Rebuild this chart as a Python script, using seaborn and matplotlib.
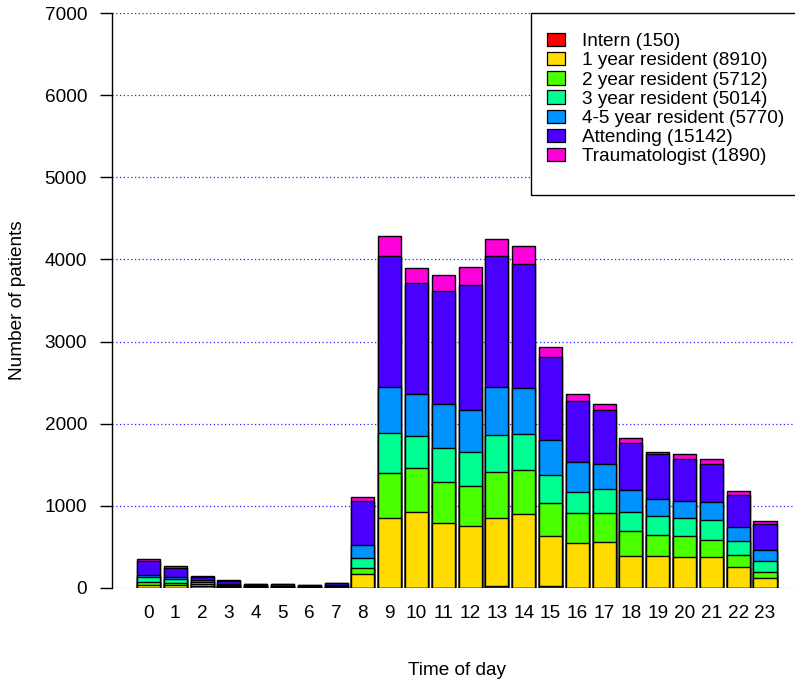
import matplotlib
matplotlib.use("Agg")
import matplotlib.pyplot as plt
from matplotlib.patches import Patch, Rectangle
import seaborn as sns
import pandas as pd
import numpy as np

hours = list(range(24))
intern = [6, 4, 3, 2, 2, 2, 2, 2, 5, 6, 6, 6, 6, 30, 6, 29, 5, 5, 5, 4, 4, 4, 3, 3]
year1 = [31, 33, 25, 10, 8, 6, 5, 7, 160, 846, 919, 785, 745, 822, 891, 608, 543, 559, 381, 382, 369, 369, 253, 119]
year2 = [32, 20, 20, 8, 6, 6, 5, 6, 73, 548, 540, 495, 495, 556, 540, 394, 361, 345, 308, 263, 264, 215, 150, 77]
year3 = [61, 48, 21, 15, 8, 7, 6, 8, 122, 487, 381, 422, 410, 451, 438, 349, 264, 296, 235, 223, 219, 236, 170, 134]
year45 = [32, 33, 28, 12, 7, 8, 6, 8, 163, 556, 512, 532, 511, 584, 556, 422, 357, 309, 260, 216, 199, 219, 163, 130]
attending = [163, 105, 37, 42, 14, 16, 11, 24, 535, 1595, 1359, 1372, 1522, 1595, 1509, 1010, 742, 657, 572, 539, 515, 471, 397, 320]
trauma = [28, 21, 12, 8, 4, 4, 2, 6, 53, 251, 179, 198, 219, 211, 219, 118, 94, 65, 61, 33, 65, 61, 41, 29]

series_names = ["Intern (150)", "1 year resident (8910)", "2 year resident (5712)",
                "3 year resident (5014)", "4-5 year resident (5770)",
                "Attending (15142)", "Traumatologist (1890)"]
colors = ["#FF0000", "#FFDB00", "#49FF00", "#00FF92", "#0092FF", "#4900FF", "#FF00DB"]

series = [intern, year1, year2, year3, year45, attending, trauma]
df = pd.DataFrame({"hour": hours})
cum = np.zeros(len(hours))
cum_cols = []
for i, s in enumerate(series):
    cum = cum + np.array(s)
    col = f"c{i}"
    df[col] = cum
    cum_cols.append(col)

plt.rcParams["font.family"] = ["Liberation Sans", "DejaVu Sans"]
FS = 13.7
fig = plt.figure(figsize=(7.95, 6.86), dpi=100)
W, H = 795, 686
ax = fig.add_axes([112 / W, (H - 588) / H, (795 - 112) / W, (588 - 13) / H])

for yv in range(0, 7001, 1000):
    ax.axhline(yv, color="#2020FF", linestyle=(0, (1, 2)), lw=0.9, zorder=0)

for i in reversed(range(len(series))):
    sns.barplot(data=df, x="hour", y=cum_cols[i], color=colors[i], saturation=1,
                width=0.86, edgecolor="black", linewidth=1.0, ax=ax, zorder=2)

ax.set_xlim(-1.36, 24.12)
ax.set_ylim(0, 7000)
for s in ["top", "right", "bottom"]:
    ax.spines[s].set_visible(False)
ax.spines["left"].set_linewidth(1.0)
ax.set_yticks(range(0, 7001, 1000))
ax.tick_params(axis="y", length=8.6, width=1.0, pad=9.4, labelsize=FS)
ax.tick_params(axis="x", length=0, pad=12, labelsize=FS)
ax.set_xlabel("Time of day", fontsize=FS)
ax.set_ylabel("Number of patients", fontsize=FS)
ax.xaxis.set_label_coords((457 - 112) / 683, (588 - 662) / 575)
ax.yaxis.set_label_coords((26 - 112) / 683, 0.5)
ax.grid(False)

# legend frame
fig.patches.append(Rectangle((531 / W, 1 - 195 / H), (805 - 531) / W, (195 - 13) / H,
                             transform=fig.transFigure, facecolor="white",
                             edgecolor="black", linewidth=1.0, zorder=5))

handles = [Patch(facecolor=c, edgecolor="black", linewidth=0.9) for c in colors]
leg = fig.legend(handles, series_names, loc="upper left",
                 bbox_to_anchor=(547 / W, 1 - 33 / H), fontsize=FS,
                 frameon=False, borderpad=0, labelspacing=0.095,
                 handlelength=0.96, handleheight=0.7, handletextpad=0.9,
                 borderaxespad=0)
leg.set_zorder(6)

fig.savefig("out.png", dpi=100)
